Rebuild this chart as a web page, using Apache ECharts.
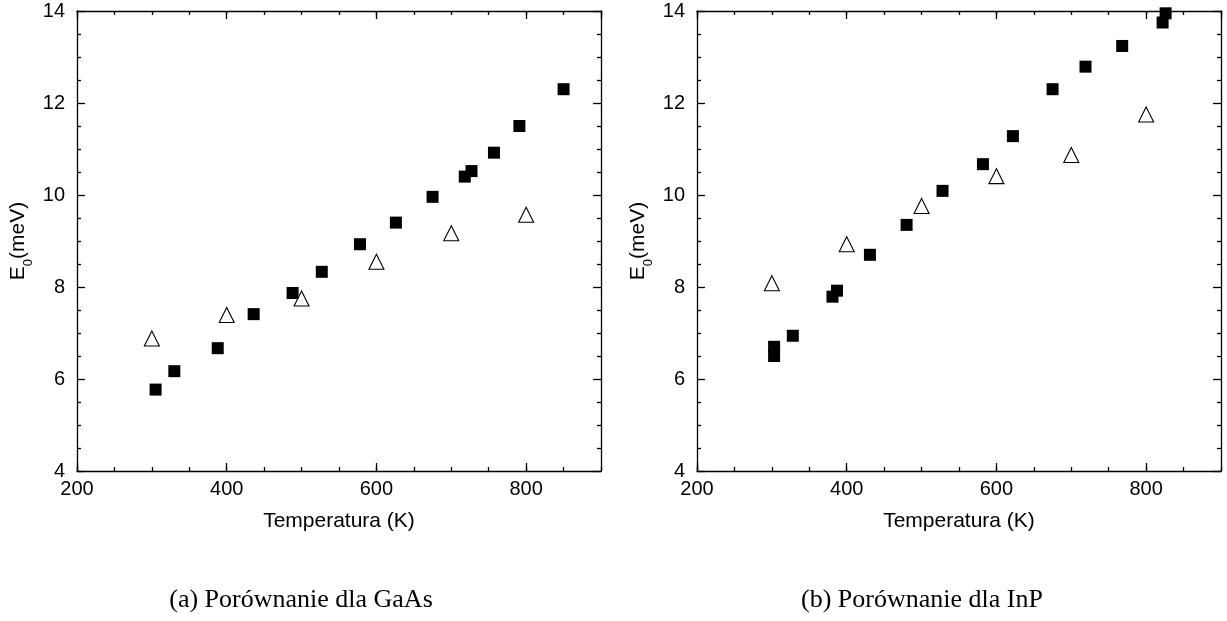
<!DOCTYPE html>
<html>
<head>
<meta charset="utf-8">
<script src="https://cdn.jsdelivr.net/npm/echarts@6/dist/echarts.min.js"></script>
<style>
html,body{margin:0;padding:0;background:#fff;}
#chart{width:1227px;height:621px;}
</style>
</head>
<body>
<div id="chart"></div>
<script>
// ---- Data (temperature K, E0 meV) ----
const gaasSquaresT = [305, 330, 388, 436, 488, 527, 578, 626, 675, 718, 727, 757, 791, 850];
const gaasSquaresE = [5.77, 6.17, 6.67, 7.41, 7.87, 8.33, 8.93, 9.40, 9.96, 10.40, 10.52, 10.92, 11.50, 12.30];
const gaasTrianglesT = [300, 400, 500, 600, 700, 800];
const gaasTrianglesE = [6.88, 7.39, 7.75, 8.55, 9.17, 9.57];

const inpSquaresT = [303, 303, 328, 381, 387, 431, 480, 528, 582, 622, 675, 719, 768, 822, 826];
const inpSquaresE = [6.50, 6.70, 6.94, 7.79, 7.92, 8.70, 9.35, 10.09, 10.67, 11.28, 12.30, 12.79, 13.24, 13.75, 13.95];
const inpTrianglesT = [300, 400, 500, 600, 700, 800];
const inpTrianglesE = [8.08, 8.93, 9.76, 10.41, 10.87, 11.75];

const xTickLabels = [200, 400, 600, 800];
const yTickLabels = [4, 6, 8, 10, 12, 14];
const xName = 'Temperatura (K)';
const captions = ['(a) Porównanie dla GaAs', '(b) Porównanie dla InP'];

const X_MIN = 200, X_MAX = 900, X_MAJOR = 200, X_MINOR = 50;
const Y_MIN = 4, Y_MAX = 14, Y_MAJOR = 2;

const pair = (xs, ys) => xs.map((x, i) => [x, ys[i]]);

const SANS = '"Liberation Sans", Arial, Helvetica, sans-serif';
const SERIF = '"Liberation Serif", "Times New Roman", serif';
const lineStyle = { color: '#000', width: 1.3 };

const grids = [
  { left: 77, top: 11, width: 524, height: 460 },
  { left: 697, top: 11, width: 524, height: 460 }
];

const xAxes = [];
const yAxes = [];
grids.forEach((g, gi) => {
  xAxes.push({
    gridIndex: gi, type: 'value', position: 'bottom',
    min: X_MIN, max: X_MAX, interval: X_MAJOR,
    name: xName, nameLocation: 'middle', nameGap: 40,
    nameTextStyle: { fontSize: 21, color: '#000', fontFamily: SANS },
    axisLine: { show: true, onZero: false, lineStyle },
    axisTick: { show: true, inside: true, length: 8, lineStyle },
    axisLabel: {
      show: true, fontSize: 20, color: '#000', fontFamily: SANS, margin: 8,
      showMaxLabel: false,
      formatter: v => (xTickLabels.indexOf(v) >= 0 ? String(v) : '')
    },
    splitLine: { show: false }
  });
  xAxes.push({
    gridIndex: gi, type: 'value', position: 'bottom',
    min: X_MIN, max: X_MAX, interval: X_MINOR,
    axisLine: { show: false, onZero: false },
    axisTick: { show: true, inside: true, length: 4, lineStyle },
    axisLabel: { show: false }, splitLine: { show: false }
  });
  xAxes.push({
    gridIndex: gi, type: 'value', position: 'top',
    min: X_MIN, max: X_MAX, interval: X_MAJOR,
    axisLine: { show: true, onZero: false, lineStyle },
    axisTick: { show: true, inside: true, length: 8, lineStyle },
    axisLabel: { show: false }, splitLine: { show: false }
  });
  xAxes.push({
    gridIndex: gi, type: 'value', position: 'top',
    min: X_MIN, max: X_MAX, interval: X_MINOR,
    axisLine: { show: false, onZero: false },
    axisTick: { show: true, inside: true, length: 4, lineStyle },
    axisLabel: { show: false }, splitLine: { show: false }
  });
  yAxes.push({
    gridIndex: gi, type: 'value', position: 'left',
    min: Y_MIN, max: Y_MAX, interval: Y_MAJOR,
    name: '{a|E}{b|0}{a|(meV)}', nameLocation: 'middle', nameGap: 46,
    nameTextStyle: {
      color: '#000',
      rich: {
        a: { fontSize: 21, fontFamily: SANS, color: '#000', lineHeight: 26 },
        b: { fontSize: 13, fontFamily: SANS, color: '#000', verticalAlign: 'bottom', lineHeight: 26, padding: [0, 0, -4, 0] }
      }
    },
    axisLine: { show: true, onZero: false, lineStyle },
    axisTick: { show: true, inside: true, length: 8, lineStyle },
    minorTick: { show: true, splitNumber: 4, length: 4, lineStyle },
    axisLabel: {
      show: true, fontSize: 20, color: '#000', fontFamily: SANS, margin: 12,
      formatter: v => (yTickLabels.indexOf(v) >= 0 ? String(v) : '')
    },
    splitLine: { show: false }, minorSplitLine: { show: false }
  });
  yAxes.push({
    gridIndex: gi, type: 'value', position: 'right',
    min: Y_MIN, max: Y_MAX, interval: Y_MAJOR,
    axisLine: { show: true, onZero: false, lineStyle },
    axisTick: { show: true, inside: true, length: 8, lineStyle },
    minorTick: { show: true, splitNumber: 4, length: 4, lineStyle },
    axisLabel: { show: false },
    splitLine: { show: false }, minorSplitLine: { show: false }
  });
});

const triStyle = { color: 'rgba(255,255,255,0)', borderColor: '#000', borderWidth: 1.1, opacity: 1 };
const sqStyle = { color: '#000', opacity: 1 };

const series = [
  { type: 'scatter', xAxisIndex: 0, yAxisIndex: 0, symbol: 'triangle', symbolSize: 15, clip: false,
    itemStyle: triStyle, data: pair(gaasTrianglesT, gaasTrianglesE), silent: true },
  { type: 'scatter', xAxisIndex: 0, yAxisIndex: 0, symbol: 'rect', symbolSize: 12, clip: false,
    itemStyle: sqStyle, data: pair(gaasSquaresT, gaasSquaresE), silent: true },
  { type: 'scatter', xAxisIndex: 4, yAxisIndex: 2, symbol: 'triangle', symbolSize: 15, clip: false,
    itemStyle: triStyle, data: pair(inpTrianglesT, inpTrianglesE), silent: true },
  { type: 'scatter', xAxisIndex: 4, yAxisIndex: 2, symbol: 'rect', symbolSize: 12, clip: false,
    itemStyle: sqStyle, data: pair(inpSquaresT, inpSquaresE), silent: true }
];

const chart = echarts.init(document.getElementById('chart'), null, { renderer: 'canvas' });
chart.setOption({
  animation: false,
  backgroundColor: '#fff',
  grid: grids,
  xAxis: xAxes,
  yAxis: yAxes,
  series: series,
  graphic: [
    { type: 'text', x: 301, y: 600, style: { text: captions[0], font: '26px ' + SERIF, fill: '#000', textAlign: 'center', textVerticalAlign: 'middle' } },
    { type: 'text', x: 922, y: 600, style: { text: captions[1], font: '26px ' + SERIF, fill: '#000', textAlign: 'center', textVerticalAlign: 'middle' } }
  ]
});
</script>
</body>
</html>
